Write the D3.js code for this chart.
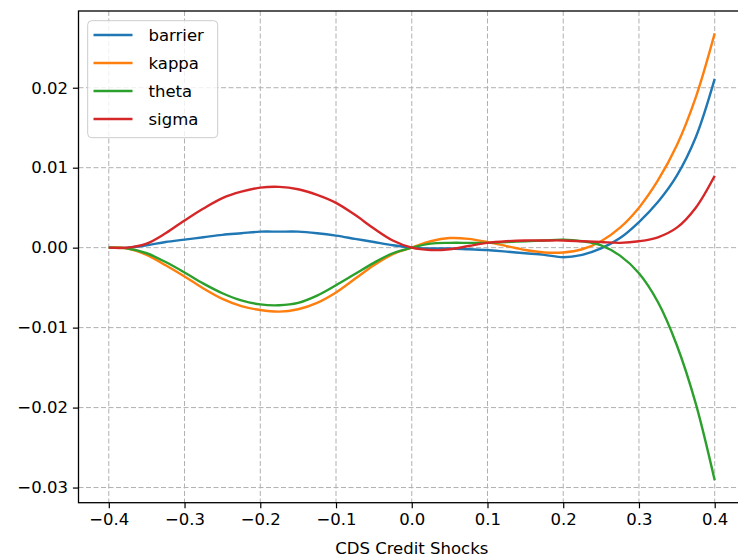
<!DOCTYPE html>
<html>
<head>
<meta charset="utf-8">
<script src="https://d3js.org/d3.v7.min.js"></script>
<style>
  body { margin: 0; background: #fff; }
  text { font-family: "DejaVu Sans", sans-serif; }
</style>
</head>
<body>
<div id="chart"></div>
<script>
// shock grid and sensitivities
var shocks = [-0.4,-0.375,-0.35,-0.325,-0.3,-0.275,-0.25,-0.225,-0.2,-0.175,-0.15,-0.125,-0.1,-0.075,-0.05,-0.025,
  0,0.025,0.05,0.075,0.1,0.125,0.15,0.175,0.2,0.225,0.25,0.275,0.3,0.325,0.35,0.375,0.4];

var barrier = [0,0,0.0003,0.0007,0.0010,0.0013,0.0016,0.0018,0.0020,0.0020,0.0020,0.0018,0.0015,0.0011,0.0007,0.0003,
  0,-0.0001,-0.0001,-0.0002,-0.0003,-0.0005,-0.0007,-0.0009,-0.0012,-0.0009,-0.0001,0.0012,0.0032,0.0057,0.0090,0.0138,0.0211];
var kappa = [0,-0.0001,-0.0009,-0.0022,-0.0036,-0.0051,-0.0064,-0.0073,-0.0078,-0.0080,-0.0077,-0.0069,-0.0056,-0.0039,-0.0022,-0.0008,
  0,0.0008,0.0012,0.0011,0.0007,0.0002,-0.0003,-0.0006,-0.0006,-0.0002,0.0008,0.0025,0.0050,0.0084,0.0128,0.0188,0.0268];
var theta = [0,-0.0001,-0.0007,-0.0018,-0.0031,-0.0045,-0.0057,-0.0066,-0.0071,-0.0072,-0.0069,-0.0060,-0.0047,-0.0033,-0.0019,-0.0007,
  0,0.0005,0.0006,0.0006,0.0006,0.0007,0.0008,0.0009,0.0010,0.0008,0.0003,-0.0010,-0.0032,-0.0068,-0.0122,-0.0195,-0.0291];
var sigma = [0,0,0.0005,0.0018,0.0034,0.0049,0.0062,0.0070,0.0075,0.0076,0.0073,0.0066,0.0056,0.0041,0.0024,0.0009,
  0,-0.0003,-0.0002,0.0002,0.0006,0.0008,0.0009,0.0009,0.0009,0.0008,0.0007,0.0006,0.0008,0.0013,0.0025,0.0050,0.0090];

var seriesNames = ["barrier","kappa","theta","sigma"];
var seriesColors = ["#1f77b4","#ff7f0e","#2ca02c","#d62728"];
var xTicks = [-0.4,-0.3,-0.2,-0.1,0,0.1,0.2,0.3,0.4];
var yTicks = [-0.03,-0.02,-0.01,0,0.01,0.02];
var xLabel = "CDS Credit Shocks";

var width = 738, height = 557;
var plotL = 78.5, plotR = 745, plotT = 11, plotB = 502.7;

var svg = d3.select("#chart").append("svg")
  .attr("width", width)
  .attr("height", height);

var allSeries = [barrier, kappa, theta, sigma];
var yMin = d3.min(allSeries, s => d3.min(s)), yMax = d3.max(allSeries, s => d3.max(s));
var yPad = (yMax - yMin) * 0.05;

var x = d3.scaleLinear().domain([-0.44, 0.44]).range([plotL, plotR]);
var y = d3.scaleLinear().domain([yMin - yPad, yMax + yPad]).range([plotB, plotT]);

function minus(s){ return s.replace("-", "\u2212"); }

// grid
var grid = svg.append("g");
grid.selectAll(".gx").data(xTicks).enter().append("line")
  .attr("x1", d => x(d)).attr("x2", d => x(d))
  .attr("y1", plotT).attr("y2", plotB)
  .attr("stroke", "#b0b0b0").attr("stroke-width", 1).attr("stroke-dasharray", "5,2.5");
grid.selectAll(".gy").data(yTicks).enter().append("line")
  .attr("x1", plotL).attr("x2", plotR)
  .attr("y1", d => y(d)).attr("y2", d => y(d))
  .attr("stroke", "#b0b0b0").attr("stroke-width", 1).attr("stroke-dasharray", "5,2.5");

svg.append("clipPath").attr("id", "clip")
  .append("rect").attr("x", plotL).attr("y", plotT).attr("width", plotR - plotL).attr("height", plotB - plotT);

var line = d3.line()
  .x((d, i) => x(shocks[i]))
  .y(d => y(d))
  .curve(d3.curveCatmullRom.alpha(0.5));

svg.append("g").attr("clip-path", "url(#clip)")
  .selectAll("path").data(allSeries).enter().append("path")
  .attr("d", d => line(d))
  .attr("fill", "none")
  .attr("stroke", (d, i) => seriesColors[i])
  .attr("stroke-width", 2.4)
  .attr("stroke-linejoin", "round")
  .attr("stroke-linecap", "butt");

// axes
var xAxis = d3.axisBottom(x).tickValues(xTicks).tickSize(5.6).tickPadding(5)
  .tickFormat(d => minus(d3.format(".1f")(d)));
var yAxis = d3.axisLeft(y).tickValues(yTicks).tickSize(5.6).tickPadding(5)
  .tickFormat(d => minus(d3.format(".2f")(d)));

var gx = svg.append("g").attr("transform", "translate(0," + plotB + ")").call(xAxis);
var gy = svg.append("g").attr("transform", "translate(" + plotL + ",0)").call(yAxis);
[gx, gy].forEach(g => {
  g.select(".domain").remove();
  g.selectAll(".tick line").attr("stroke", "#000").attr("stroke-width", 1.2);
  g.selectAll(".tick text").attr("fill", "#000").style("font-size", "16.5px");
});

// spines
svg.append("rect")
  .attr("x", plotL).attr("y", plotT)
  .attr("width", plotR - plotL).attr("height", plotB - plotT)
  .attr("fill", "none").attr("stroke", "#000").attr("stroke-width", 1.3);

svg.append("text")
  .attr("x", (plotL + plotR) / 2)
  .attr("y", 554)
  .attr("text-anchor", "middle")
  .style("font-size", "16.5px")
  .attr("fill", "#000")
  .text(xLabel);

// legend
var legend = svg.append("g");
legend.append("rect")
  .attr("x", 87.7).attr("y", 20.7)
  .attr("width", 130).attr("height", 117)
  .attr("rx", 4)
  .attr("fill", "#fff").attr("fill-opacity", 0.8)
  .attr("stroke", "#cccccc").attr("stroke-width", 1);

var rows = legend.selectAll(".row").data(seriesNames).enter().append("g")
  .attr("transform", (d, i) => "translate(0," + (35 + i * 28) + ")");
rows.append("line")
  .attr("x1", 93.5).attr("x2", 132.5)
  .attr("stroke", (d, i) => seriesColors[i]).attr("stroke-width", 2.4);
rows.append("text")
  .attr("x", 148.5).attr("dy", "0.35em")
  .style("font-size", "16.5px")
  .attr("fill", "#000")
  .text(d => d);
</script>
</body>
</html>
